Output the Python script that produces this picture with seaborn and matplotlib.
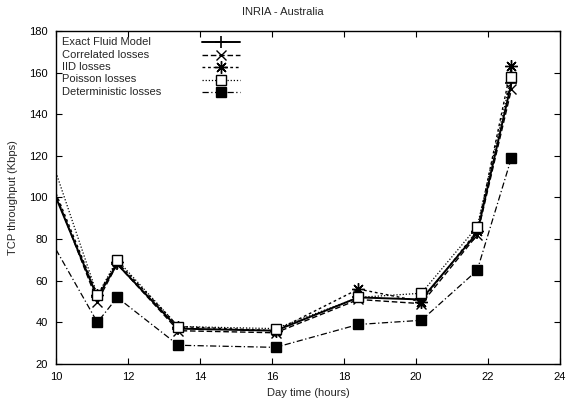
import matplotlib
matplotlib.use("Agg")
import matplotlib.pyplot as plt
import seaborn as sns
import numpy as np

sns.set_style("ticks")
plt.rcParams['font.family'] = ['Liberation Sans', 'DejaVu Sans']

hours = [10, 11.15, 11.7, 13.4, 16.1, 18.4, 20.15, 21.7, 22.65]
exact_fluid = [100, 52, 68, 37, 36, 52, 51, 83, 155]
correlated = [101, 50, 68, 36, 35, 51, 49, 82, 152]
iid = [102, 53, 69, 38, 36, 56, 50, 84, 163]
poisson = [112, 53, 70, 38, 37, 52, 54, 86, 158]
deterministic = [75, 40, 52, 29, 28, 39, 41, 65, 119]

labels = ["Exact Fluid Model", "Correlated losses", "IID losses",
          "Poisson losses", "Deterministic losses"]
series = [exact_fluid, correlated, iid, poisson, deterministic]

styles = [
    dict(linestyle='-', marker='+', markersize=9, lw=1.4, mew=1.2, mfc='k'),
    dict(linestyle=(0, (4, 2)), marker='x', markersize=7, lw=1.0, mew=1.0, mfc='k'),
    dict(linestyle=(0, (2, 2)), marker=(8, 2, 0), markersize=9, lw=1.0, mew=1.0, mfc='k'),
    dict(linestyle=(0, (1, 1.5)), marker='s', markersize=7, lw=0.9, mew=1.0, mfc='white'),
    dict(linestyle=(0, (5, 2, 1, 2)), marker='s', markersize=7.3, lw=0.9, mew=1.0, mfc='k'),
]

fig = plt.figure(figsize=(5.66, 3.99), dpi=100)
ax = fig.add_axes([56/566, 1-364/399, (560-56)/566, (364-31)/399])

mk = list(range(1, len(hours)))
for vals, lab, st in zip(series, labels, styles):
    sns.lineplot(x=hours, y=vals, ax=ax, color='k', mec='k',
                 markevery=mk, clip_on=True, **st)

ax.set_xlim(10, 24)
ax.set_ylim(20, 180)
ax.set_xticks(np.arange(10, 25, 2))
ax.set_yticks(np.arange(20, 181, 20))
ax.tick_params(direction='in', length=4, width=0.8, top=True, right=True,
               labelsize=8, pad=6, colors='k')
for s in ax.spines.values():
    s.set_linewidth(1.0)
    s.set_color('k')
ax.set_xlabel("Day time (hours)", fontsize=8, labelpad=4)
ax.set_ylabel("TCP throughput (Kbps)", fontsize=8, labelpad=8)
fig.text(0.5, 1-12/399, "INRIA - Australia", ha='center', va='center', fontsize=8)

# legend (gnuplot-style: text left, sample right)
def ax_frac(px, py):
    return ((px-56)/(560-56), (364-py)/(364-31))

rows = [42, 54.5, 67, 79.5, 92]
for lab, st, py in zip(labels, styles, rows):
    tx, ty = ax_frac(62, py)
    ax.text(tx, ty, lab, transform=ax.transAxes, fontsize=8, va='center', ha='left')
    x0, yy = ax_frac(202, py)
    x1, _ = ax_frac(240, py)
    xm, _ = ax_frac(221, py)
    ax.plot([x0, x1], [yy, yy], transform=ax.transAxes, color='k',
            linestyle=st['linestyle'], lw=st['lw'], clip_on=False)
    ax.plot([xm], [yy], transform=ax.transAxes, color='k', marker=st['marker'],
            markersize=st['markersize'], mew=st['mew'], mfc=st['mfc'], mec='k',
            linestyle='none', clip_on=False)

fig.savefig("out.png", dpi=100)
